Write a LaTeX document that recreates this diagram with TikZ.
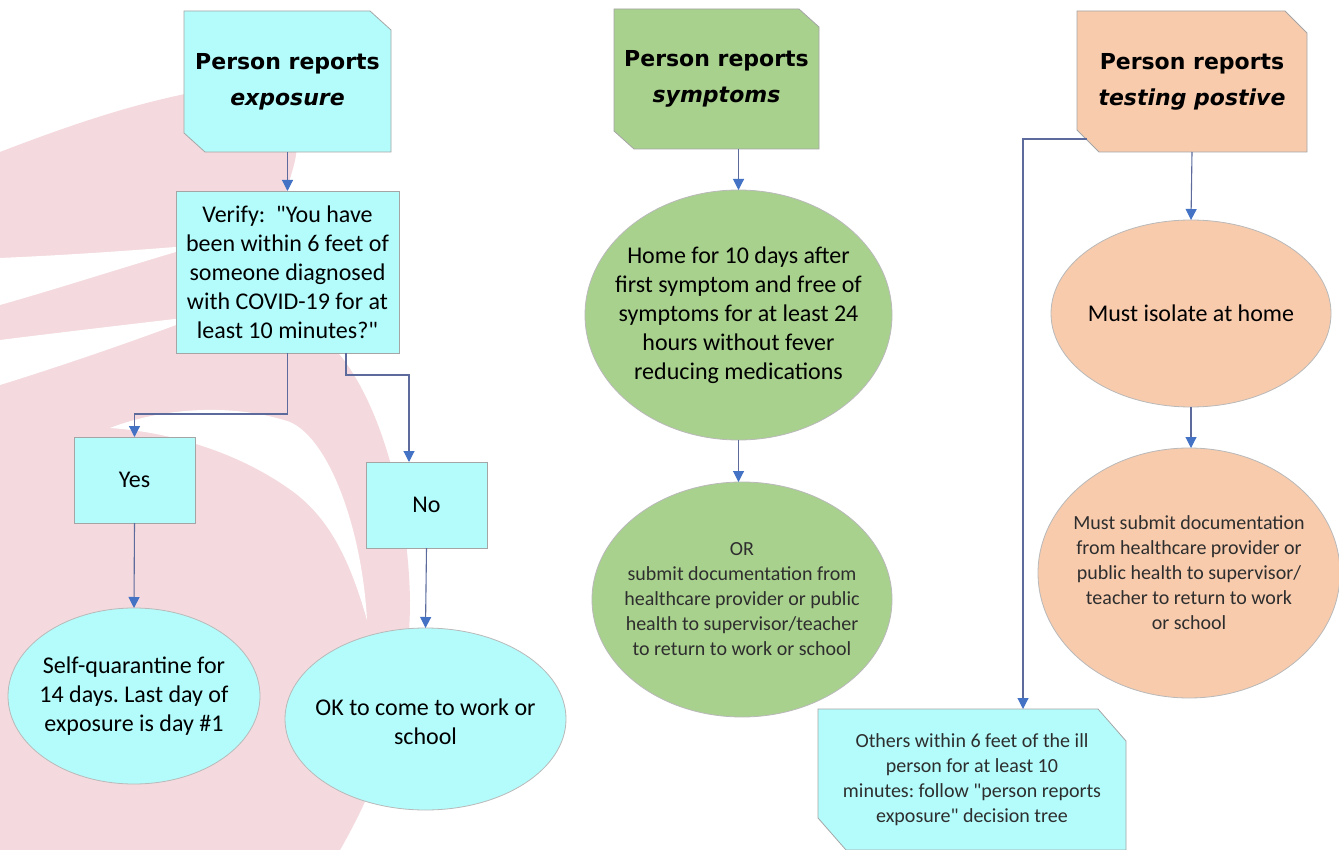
\documentclass[tikz,border=0pt]{standalone}
\usepackage{fontspec}
\setmainfont{Carlito}[Ligatures=TeXOff]
\newfontfamily\titlefont{DejaVu Sans}[Ligatures=TeXOff]
\usetikzlibrary{arrows.meta,shapes.geometric,calc}
\pgfdeclarelayer{bg}
\pgfdeclarelayer{shp}
\pgfsetlayers{bg,shp,main}
\definecolor{cyanf}{RGB}{180,252,252}
\definecolor{greenf}{RGB}{169,209,142}
\definecolor{peachf}{RGB}{248,203,173}
\definecolor{pinkbg}{RGB}{244,218,222}
\definecolor{boxgray}{RGB}{165,165,165}
\definecolor{ellgray}{RGB}{185,185,185}
\definecolor{linecol}{RGB}{92,107,156}
\definecolor{tipcol}{RGB}{68,114,196}
\newcommand\chambox[4]{%
  \draw[chamline, fill=#2] (#1.north west) -- ([xshift=-#3pt]#1.north east) -- ([yshift=-#4pt]#1.north east) -- (#1.south east) -- ([xshift=#3pt]#1.south west) -- ([yshift=#4pt]#1.south west) -- cycle;}
\frenchspacing
\begin{document}
\begin{tikzpicture}[x=1pt,y=-1pt,
  body/.style={font=\fontsize{24}{29}\selectfont, align=center, text=black},
  small/.style={font=\fontsize{20}{25}\selectfont, align=center, text=black!82},
  ttl/.style={font=\titlefont\bfseries\fontsize{22}{36}\selectfont, align=center, text=black},
  holder/.style={rectangle, inner sep=0pt, outer sep=0pt},
  chamline/.style={draw=boxgray, line width=0.8pt},
  rbox/.style={rectangle, draw=boxgray, line width=0.8pt, fill=cyanf, inner sep=0pt, outer sep=0pt},
  ell/.style={ellipse, draw=ellgray, line width=0.8pt, inner sep=0pt, outer sep=0pt},
  arr/.style={draw=linecol, line width=1.1pt, -{Triangle[width=11pt,length=11pt,color=tipcol]}}]
\useasboundingbox (0,0) rectangle (1339,850);

% ---------- background watermark ----------
\begin{pgfonlayer}{bg}
\fill[white] (0,0) rectangle (1339,850);
\fill[pinkbg] (0,152) .. controls (70,125) and (130,105) .. (190,93)
  .. controls (250,82) and (290,100) .. (296,135)
  .. controls (300,160) and (287,180) .. (285,200) -- (300,330)
  .. controls (320,345) and (335,350) .. (340,355)
  .. controls (380,405) and (408,500) .. (410,600)
  .. controls (410,700) and (380,780) .. (340,850) -- (0,850) -- cycle;
\fill[white] (0,258) .. controls (70,255) and (140,250) .. (200,245)
  .. controls (140,262) and (70,285) .. (0,305) -- cycle;
\fill[white] (0,340) .. controls (80,330) and (150,322) .. (200,316)
  .. controls (150,335) and (80,360) .. (0,385) -- cycle;
\fill[white] (110,428) .. controls (170,405) and (240,405) .. (290,422)
  .. controls (330,440) and (362,530) .. (367,620)
  .. controls (350,560) and (330,520) .. (295,493)
  .. controls (240,452) and (170,432) .. (110,428) -- cycle;
\end{pgfonlayer}

% ---------- column 1: exposure ----------
\node[holder, ttl, minimum width=207pt, minimum height=141pt] (t1) at (287.5,81.5) {Person reports\\ \itshape exposure};
\node[rbox, body, minimum width=223pt, minimum height=162pt] (v) at (287.5,272)
  {Verify:~~"You have\\ been within 6 feet of\\ someone diagnosed\\ with COVID-19 for at\\ least 10 minutes?"};
\node[rbox, body, minimum width=121pt, minimum height=86pt] (yes) at (134.5,480) {Yes};
\node[rbox, body, minimum width=121pt, minimum height=86pt] (no) at (426.5,505) {No};
\node[ell, fill=cyanf, minimum width=252pt, minimum height=176pt] (q) at (134,696) {};
\node[body] (qt) at (q.center) {Self-quarantine for\\ 14 days. Last day of\\ exposure is day \#1};
\node[ell, fill=cyanf, minimum width=281pt, minimum height=182pt] (ok) at (425.5,719) {};
\node[body] (okt) at (425.5,722) {OK to come to work or\\ school};

% ---------- column 2: symptoms ----------
\node[holder, ttl, minimum width=205pt, minimum height=140pt] (t2) at (716.5,79) {Person reports\\ \itshape symptoms};
\node[ell, fill=greenf, minimum width=307pt, minimum height=250pt] (h1) at (738.5,315) {};
\node[body] (h1t) at (h1.center) {Home for 10 days after\\ first symptom and free of\\ symptoms for at least 24\\ hours without fever\\ reducing medications};
\node[ell, fill=greenf, minimum width=300pt, minimum height=235pt] (or) at (742,599.5) {};
\node[small] (ort) at (or.center) {OR\\ submit documentation from\\ healthcare provider or public\\ health to supervisor/teacher\\ to return to work or school};

% ---------- column 3: testing positive ----------
\node[holder, ttl, minimum width=230pt, minimum height=141pt] (t3) at (1192,81.5) {Person reports\\ \itshape testing postive};
\node[ell, fill=peachf, minimum width=280pt, minimum height=187pt] (iso) at (1191,313.5) {};
\node[body] (isot) at (iso.center) {Must isolate at home};
\node[ell, fill=peachf, minimum width=302pt, minimum height=250pt] (doc) at (1189,573) {};
\node[small] (doct) at (doc.center) {Must submit documentation\\ from healthcare provider or\\ public health to supervisor/\\ teacher to return to work\\ or school};
\node[holder, small, minimum width=308pt, minimum height=141pt] (oth) at (972,779.5)
  {Others within 6 feet of the ill\\ person for at least 10\\ minutes: follow "person reports\\ exposure" decision tree};

% ---------- chamfered boxes ----------
\begin{pgfonlayer}{shp}
\chambox{t1}{cyanf}{21}{19}
\chambox{t2}{greenf}{20}{18}
\chambox{t3}{peachf}{22}{22}
\chambox{oth}{cyanf}{28}{32}
\end{pgfonlayer}

% ---------- connectors ----------
\draw[arr] (t1.south) -- (v.north);
\draw[arr] (v.south) -- ++(0,61) -| (yes.north);
\draw[arr] ([xshift=58.5pt]v.south) -- ++(0,22) -| ([xshift=-17.5pt]no.north);
\draw[arr] (yes.south) -- (q.north);
\draw[arr] (no.south) -- (ok.north);
\draw[arr] (t2.south -| h1.north) -- (h1.north);
\draw[arr] (h1.south) -- (h1.south |- or.north);
\draw[arr] (t3.south) -- (iso.north);
\draw[arr] (iso.south) -- (iso.south |- doc.north);
\draw[arr] ([xshift=10pt,yshift=13pt]t3.south west) -| ([xshift=51pt]oth.north);
\end{tikzpicture}
\end{document}
